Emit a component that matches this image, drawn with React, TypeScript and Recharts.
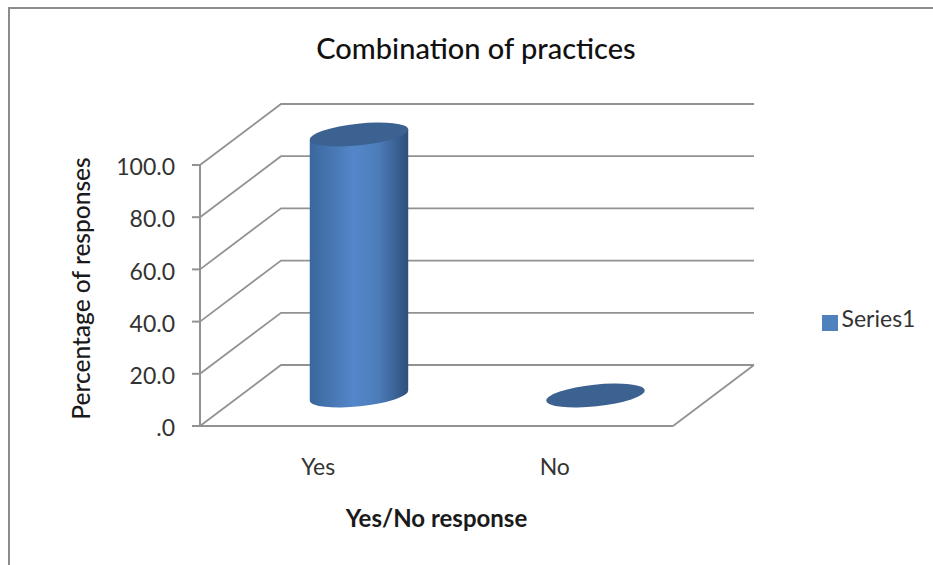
import React from "react";
import { BarChart, Bar, XAxis, YAxis, CartesianGrid, Legend } from "recharts";

const categories = ["Yes", "No"];
const series1 = [100, 0];
const yTicks = [0, 20, 40, 60, 80, 100];
const rows = categories.map((name, i) => ({ name, Series1: series1[i] }));

const WIDTH = 933;
const HEIGHT = 565;
const FONT = "Lato, 'Open Sans', sans-serif";
const LINE = "#929292";
const DEPTH_X = 81;
const DEPTH_Y = 61;
const TILT = -6;
const BODY_ID = "cylinderBody";

// Wall and floor lines: each y gridline runs up the side wall and along the back wall.
const wallLine = (props: any) => {
  const { x1, x2, y1, index, y, height } = props;
  const backY = y1 - DEPTH_Y;
  const path = `M${x1},${y1} L${x1 + DEPTH_X},${backY} L${x2 + DEPTH_X},${backY}`;
  const isFloor = Math.abs(y1 - (y + height)) < 1;
  return (
    <g key={`wall-${index}`}>
      <path d={path} fill="none" stroke={LINE} strokeWidth={1.8} />
      {isFloor ? (
        <line x1={x2} y1={y1} x2={x2 + DEPTH_X} y2={backY} stroke={LINE} strokeWidth={1.8} />
      ) : null}
    </g>
  );
};

// Upright cylinder standing mid-way into the floor depth.
const Cylinder = (props: any) => {
  const { x, y, width, height } = props;
  const cx = x + width / 2 + DEPTH_X / 2;
  const topY = y - DEPTH_Y / 2;
  const a = width / 2;
  const b = 10.9;
  const rad = (TILT * Math.PI) / 180;
  const ex = a * Math.cos(rad);
  const ey = a * Math.sin(rad);
  const body =
    `M${cx - ex},${topY - ey} L${cx - ex},${topY + height - ey} ` +
    `A${a},${b} ${TILT} 0 0 ${cx + ex},${topY + height + ey} L${cx + ex},${topY + ey} Z`;
  return (
    <g>
      {height > 0 ? <path d={body} fill={`url(#${BODY_ID})`} /> : null}
      <ellipse
        cx={cx}
        cy={topY}
        rx={a}
        ry={b}
        fill="#3B6291"
        transform={`rotate(${TILT} ${cx} ${topY})`}
      />
    </g>
  );
};

const yTickText = (v: number) => (v === 0 ? ".0" : v.toFixed(1));

const yTitle = ({ viewBox }: any) => {
  const cy = viewBox.y + viewBox.height / 2 - 7;
  return (
    <text
      x={90}
      y={cy}
      transform={`rotate(-90 90 ${cy})`}
      textAnchor="middle"
      fontFamily={FONT}
      fontSize={24.5}
      fontWeight={500}
      fill="#1a1a1a"
    >
      Percentage of responses
    </text>
  );
};

export default function App() {
  return (
    <div
      style={{
        position: "absolute",
        left: 0,
        top: 0,
        width: WIDTH,
        height: HEIGHT,
        overflow: "hidden",
        background: "#fff",
      }}
    >
      <div
        style={{
          position: "absolute",
          left: 8,
          top: 7,
          width: WIDTH,
          height: HEIGHT,
          borderLeft: "2px solid #8c8c8c",
          borderTop: "2px solid #8c8c8c",
        }}
      />
      <BarChart
        width={WIDTH}
        height={HEIGHT}
        data={rows}
        barSize={99}
        margin={{ top: 165, right: 260, bottom: 0, left: 80 }}
        style={{ position: "absolute", left: 0, top: 0 }}
      >
        <defs>
          <linearGradient id={BODY_ID} x1="0" y1="0" x2="1" y2="0">
            <stop offset="0%" stopColor="#3A679C" />
            <stop offset="45%" stopColor="#5487CA" />
            <stop offset="70%" stopColor="#4C7CB9" />
            <stop offset="100%" stopColor="#2E4F7A" />
          </linearGradient>
        </defs>
        <text
          x={476}
          y={59}
          textAnchor="middle"
          fontFamily={FONT}
          fontSize={29}
          fontWeight={500}
          fill="#111"
        >
          Combination of practices
        </text>
        <CartesianGrid horizontal={wallLine} vertical={false} />
        <XAxis
          dataKey="name"
          height={139}
          tickLine={false}
          axisLine={{ stroke: LINE, strokeWidth: 2 }}
          tickMargin={27}
          tick={{ fontFamily: FONT, fontSize: 23, fill: "#333" }}
          label={{
            value: "Yes/No response",
            position: "insideTop",
            offset: 84,
            fontFamily: FONT,
            fontSize: 24,
            fontWeight: 700,
            fill: "#1a1a1a",
          }}
        />
        <YAxis
          width={120}
          domain={[0, 100]}
          ticks={yTicks}
          interval={0}
          tickFormatter={yTickText}
          tickSize={8}
          tickMargin={17}
          axisLine={{ stroke: LINE, strokeWidth: 2 }}
          tickLine={{ stroke: LINE, strokeWidth: 2 }}
          tick={{ fontFamily: FONT, fontSize: 23, fill: "#333", dy: 2 }}
          label={{ content: yTitle }}
        />
        <Bar
          dataKey="Series1"
          fill="#4F81BD"
          shape={<Cylinder />}
          isAnimationActive={false}
        />
        <Legend
          layout="horizontal"
          verticalAlign="middle"
          iconType="square"
          iconSize={16}
          wrapperStyle={{ position: "absolute", left: 817, top: 304, width: 113, height: 30 }}
          formatter={(value: string) => (
            <span style={{ fontFamily: FONT, fontSize: 23, color: "#333" }}>{value}</span>
          )}
        />
      </BarChart>
    </div>
  );
}
